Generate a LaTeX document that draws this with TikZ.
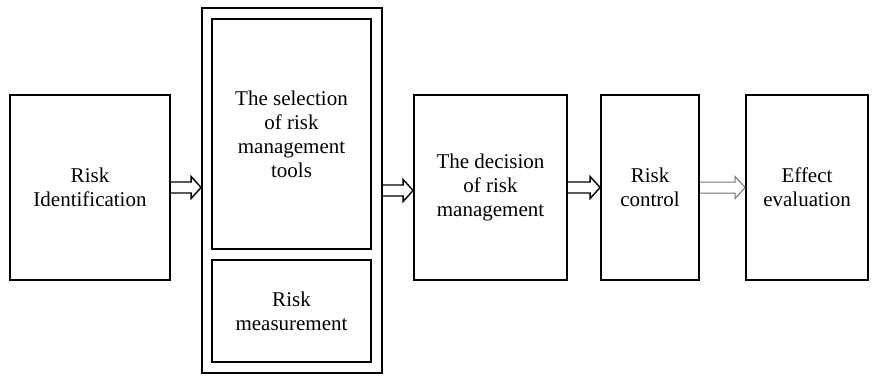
\documentclass[tikz,border=0pt]{standalone}
\usepackage{fontspec}
\setmainfont{Liberation Serif}
\usetikzlibrary{calc}
\begin{document}
\begin{tikzpicture}[x=1pt,y=-1pt,
  box/.style={draw=black,line width=1.8pt,align=center,inner sep=0pt,
    font=\fontsize{21}{24}\selectfont},
  hollow/.style={draw=black,line width=1.4pt,line join=miter},
  hollowgray/.style={draw=black!55,line width=1pt,line join=miter}]
\useasboundingbox (0,0) rectangle (875,376);
\node[box,minimum width=160pt,minimum height=185pt] (ri) at (90,187.5) {Risk\\Identification};
\node[box,minimum width=180pt,minimum height=365pt] (outer) at (292,190.5) {};
\node[box,minimum width=159pt,minimum height=230pt] (sel) at (291.5,134) {The selection\\of risk\\management\\tools};
\node[box,minimum width=159pt,minimum height=102pt] (meas) at (291.5,311) {Risk\\measurement};
\node[box,minimum width=153pt,minimum height=185pt] (dec) at (490.5,187.5) {The decision\\of risk\\management};
\node[box,minimum width=98pt,minimum height=185pt] (ctl) at (650,187.5) {Risk\\control};
\node[box,minimum width=122pt,minimum height=185pt] (eff) at (807,187.5) {Effect\\evaluation};
\newcommand{\harrow}[3]{%
  \draw[#1] let \p1=(#2.east), \p2=(#3.west) in
    (\x1,\y1+5.5pt) -- (\x2-10pt,\y1+5.5pt) -- (\x2-10pt,\y1+11pt) -- (\x2,\y1)
    -- (\x2-10pt,\y1-11pt) -- (\x2-10pt,\y1-5.5pt) -- (\x1,\y1-5.5pt);}
\harrow{hollow}{ri}{outer}
\harrow{hollow}{outer}{dec}
\harrow{hollow}{dec}{ctl}
\harrow{hollowgray}{ctl}{eff}
\end{tikzpicture}
\end{document}
